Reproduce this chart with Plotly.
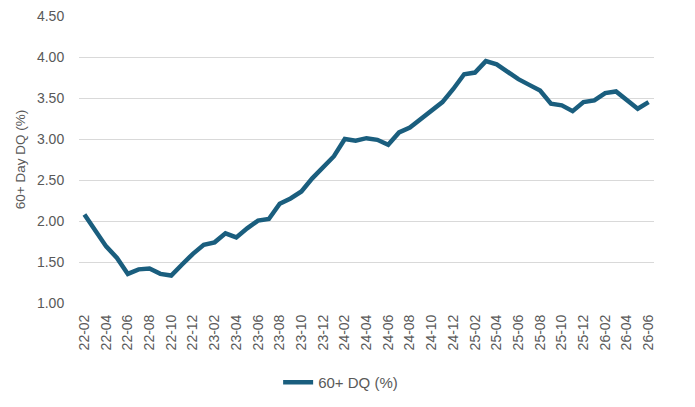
import plotly.graph_objects as go

# monthly labels yy-mm, 22-02 .. 26-06
months = ["22-02", "22-03", "22-04", "22-05", "22-06", "22-07", "22-08", "22-09",
          "22-10", "22-11", "22-12", "23-01", "23-02", "23-03", "23-04", "23-05",
          "23-06", "23-07", "23-08", "23-09", "23-10", "23-11", "23-12", "24-01",
          "24-02", "24-03", "24-04", "24-05", "24-06", "24-07", "24-08", "24-09",
          "24-10", "24-11", "24-12", "25-01", "25-02", "25-03", "25-04", "25-05",
          "25-06", "25-07", "25-08", "25-09", "25-10", "25-11", "25-12", "26-01",
          "26-02", "26-03", "26-04", "26-05", "26-06"]

dq60 = [2.08, 1.89, 1.69, 1.55, 1.355, 1.41, 1.42, 1.355,
        1.335, 1.47, 1.60, 1.71, 1.74, 1.85, 1.80, 1.91,
        2.005, 2.025, 2.21, 2.275, 2.36, 2.52, 2.65, 2.79,
        3.00, 2.98, 3.01, 2.99, 2.93, 3.08, 3.14, 3.24,
        3.35, 3.45, 3.61, 3.79, 3.81, 3.95, 3.91, 3.82,
        3.73, 3.66, 3.59, 3.43, 3.41, 3.34, 3.45, 3.47,
        3.56, 3.58, 3.47, 3.37, 3.45]

y_ticks = [1.0, 1.5, 2.0, 2.5, 3.0, 3.5, 4.0, 4.5]

fig = go.Figure()
fig.add_trace(go.Scatter(
    x=months, y=dq60, mode="lines", name="60+ DQ (%)",
    line=dict(color="#1a5e7e", width=4.5),
))

txt = "#595959"
clear = "rgba(0,0,0,0)"
# page body adds an 8px offset, so the figure is 8px smaller on each side
fig.update_layout(
    width=687, height=399,
    margin=dict(l=71, r=41, t=8, b=102),
    paper_bgcolor="white", plot_bgcolor="white",
    font=dict(family="Liberation Sans, Arial, sans-serif", size=13, color=txt),
    showlegend=True,
    legend=dict(orientation="h", x=0.455, xanchor="center", y=-0.277, yanchor="middle",
                font=dict(size=15, color=txt)),
    xaxis=dict(type="category", range=[-0.5, len(months) - 0.5],
               tickvals=months[::2], tickangle=-90,
               showgrid=False, showline=False,
               ticks="outside", ticklen=5, tickcolor=clear,
               tickfont=dict(size=14, color=txt)),
    yaxis=dict(range=[1.0, 4.5], tickvals=y_ticks, tickformat=".2f",
               showgrid=True, gridcolor="#d9d9d9", gridwidth=1, zeroline=False,
               ticks="outside", ticklen=11, tickcolor=clear,
               ticklabeloverflow="allow", automargin=False,
               title=dict(text="60+ Day DQ (%)", font=dict(size=13.5, color=txt), standoff=8),
               tickfont=dict(size=14, color=txt)),
)

fig.write_html("out.html")
